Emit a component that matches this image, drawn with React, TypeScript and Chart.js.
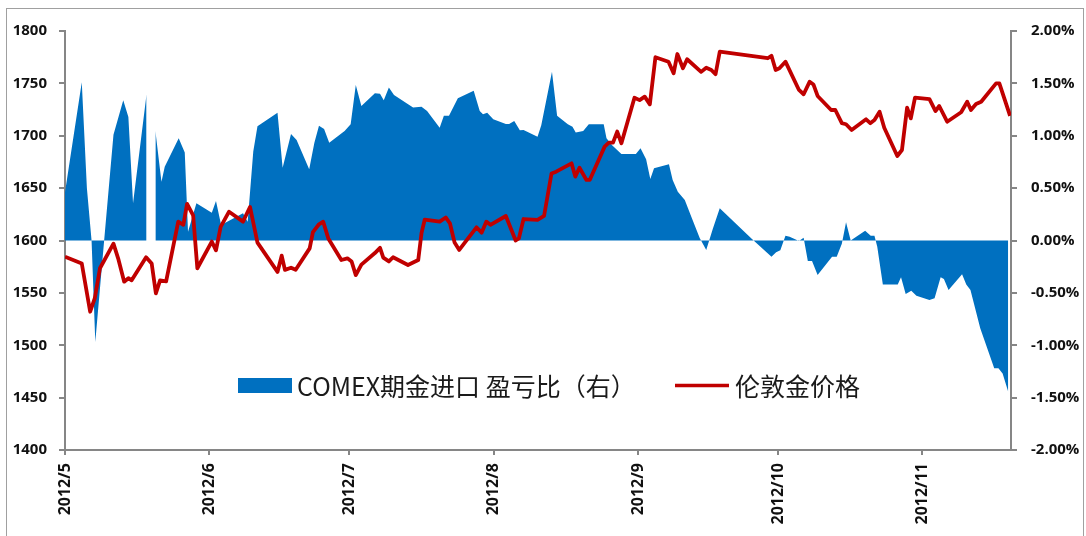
import React, { useEffect, useRef } from "react";
import { Chart, registerables } from "chart.js";

Chart.register(...registerables);

// ---- data (x = days since 2012-05-01) ----
const monthTickDays = [0, 31, 61, 92, 123, 153, 184];
const monthLabels = ["2012/5", "2012/6", "2012/7", "2012/8", "2012/9", "2012/10", "2012/11"];

const seriesNames = ["COMEX期金进口 盈亏比（右）", "伦敦金价格"];

const ratioDays = [0, 3.6, 4.7, 5.7, 6.5, 8.4, 10.4, 12.5, 13.6, 14.6, 17.5, 18.5, 19.4, 20.7, 21.4, 24.4, 25.7, 26.4, 28.2, 31.5, 32.4, 33.5, 38.2, 39.2, 40.4, 41.3, 45.6, 46.7, 48.5, 49.7, 52.4, 53.5, 54.5, 55.6, 56.7, 60.0, 61.3, 62.4, 63.6, 66.5, 67.6, 68.4, 69.5, 70.6, 73.3, 74.7, 76.5, 77.7, 80.4, 81.3, 82.4, 84.3, 87.7, 89.0, 89.7, 90.6, 91.9, 94.6, 95.3, 96.4, 97.6, 98.4, 101.4, 102.2, 104.5, 105.6, 107.9, 108.9, 109.6, 111.2, 112.4, 115.6, 116.2, 117.4, 119.4, 122.5, 123.5, 124.7, 125.6, 126.4, 129.6, 130.4, 131.5, 133.0, 134.4, 136.2, 137.6, 139.0, 140.5, 147.3, 151.6, 152.6, 153.5, 154.6, 155.5, 157.5, 158.5, 159.4, 160.3, 161.5, 164.6, 165.6, 166.7, 167.6, 168.6, 171.7, 172.9, 173.7, 174.3, 175.5, 178.7, 179.4, 180.4, 181.6, 182.7, 185.5, 186.6, 187.9, 188.6, 189.6, 192.5, 193.4, 194.3, 196.4, 199.4, 200.3, 201.2, 202.4];
const ratioPct = [0.46, 1.51, 0.5, 0.0, -0.97, 0.0, 1.01, 1.34, 1.18, 0.355, 1.395, null, 1.045, 0.56, 0.705, 0.976, 0.84, 0.084, 0.355, 0.265, 0.377, 0.148, 0.26, 0.18, 0.85, 1.09, 1.22, 0.695, 1.017, 0.96, 0.68, 0.93, 1.096, 1.064, 0.934, 1.045, 1.11, 1.485, 1.284, 1.405, 1.4, 1.34, 1.46, 1.39, 1.31, 1.27, 1.277, 1.236, 1.077, 1.19, 1.19, 1.357, 1.43, 1.236, 1.205, 1.22, 1.157, 1.112, 1.112, 1.14, 1.052, 1.055, 0.99, 1.1, 1.61, 1.19, 1.11, 1.086, 1.03, 1.045, 1.11, 1.11, 0.976, 0.91, 0.826, 0.826, 0.88, 0.775, 0.587, 0.69, 0.727, 0.578, 0.466, 0.387, 0.227, 0.024, -0.09, 0.11, 0.307, 0.02, -0.155, -0.113, -0.094, 0.046, 0.036, -0.005, 0.027, -0.196, -0.196, -0.33, -0.155, -0.155, -0.03, 0.174, 0.0, 0.094, 0.046, 0.046, -0.06, -0.42, -0.42, -0.35, -0.51, -0.48, -0.527, -0.568, -0.552, -0.35, -0.368, -0.473, -0.323, -0.42, -0.473, -0.838, -1.22, -1.22, -1.27, -1.443];

const goldDays = [0, 3.6, 5.4, 6.4, 7.5, 10.4, 11.4, 12.7, 13.6, 14.3, 17.4, 18.6, 19.5, 20.4, 21.7, 24.3, 25.4, 26.2, 27.5, 28.4, 31.5, 32.4, 33.4, 35.2, 38.2, 39.7, 41.3, 45.6, 46.5, 47.2, 48.5, 49.5, 52.5, 53.2, 54.5, 55.4, 56.5, 59.3, 60.6, 61.5, 62.4, 63.6, 66.5, 67.6, 68.3, 69.5, 70.4, 73.6, 75.8, 76.5, 77.2, 80.4, 81.7, 82.6, 83.6, 84.6, 88.3, 89.4, 90.4, 91.3, 94.6, 96.7, 97.4, 98.4, 101.4, 102.8, 104.4, 105.4, 108.7, 109.5, 110.4, 111.9, 112.6, 115.8, 116.7, 117.6, 118.5, 119.4, 122.2, 123.3, 124.4, 125.5, 126.7, 129.5, 130.6, 131.4, 132.6, 133.5, 136.5, 137.6, 138.7, 139.6, 140.5, 150.8, 151.6, 152.5, 153.3, 154.6, 157.5, 158.5, 159.8, 160.6, 161.5, 164.4, 165.3, 166.7, 167.6, 168.8, 171.9, 172.8, 173.7, 174.8, 175.8, 178.6, 179.6, 180.7, 181.5, 182.4, 185.5, 186.8, 187.6, 189.3, 192.3, 193.6, 194.4, 195.5, 196.6, 199.8, 200.5, 202.8];
const goldPrice = [1584.5, 1578, 1532, 1545, 1573.5, 1597, 1583, 1560.7, 1564, 1562, 1584, 1578, 1549.6, 1562, 1561, 1618, 1615, 1635, 1624, 1573.5, 1599, 1590.6, 1613, 1627.5, 1618, 1632, 1598, 1570, 1585.5, 1572, 1574, 1572, 1592.5, 1608, 1615.5, 1618, 1602, 1581.4, 1583, 1580, 1567, 1577, 1588, 1593, 1583.6, 1580, 1584, 1576.6, 1581.4, 1607, 1620, 1618, 1622, 1616.4, 1598, 1591, 1612.6, 1607.5, 1618, 1615, 1623.4, 1600, 1602, 1620.5, 1619.6, 1623.4, 1664, 1665.7, 1673.7, 1661, 1669.5, 1657.8, 1657.8, 1689.6, 1693.4, 1693.4, 1704, 1692.8, 1736.3, 1734, 1737.3, 1730, 1775, 1770.7, 1759.6, 1778, 1764.4, 1773, 1761, 1765, 1762.8, 1758.7, 1780.2, 1774, 1776.4, 1762.8, 1764.4, 1770.7, 1743.7, 1739.6, 1751.6, 1749, 1738, 1724.6, 1724.6, 1712, 1711, 1705.5, 1715.7, 1712, 1715, 1723, 1707.7, 1680.7, 1686.4, 1726.8, 1716.6, 1736.3, 1735, 1723.6, 1728.4, 1713.4, 1722.4, 1732.5, 1724.6, 1730.3, 1732.5, 1750, 1750, 1719];

const BLUE = "#0070C0";
const RED = "#C00000";
const AXIS = "#868686";
const TEXT = "#111111";
const TICK_FONT = { family: "'Open Sans', 'Liberation Sans', sans-serif", size: 15, weight: "bold" as const };
const X_TICK_FONT = { family: "'Open Sans', 'Liberation Sans', sans-serif", size: 16, weight: "bold" as const };

const framePlugin = {
  id: "frame",
  beforeDraw(chart: any) {
    const ctx = chart.ctx;
    ctx.save();
    ctx.fillStyle = "#ffffff";
    ctx.fillRect(0, 0, chart.width, chart.height);
    ctx.strokeStyle = "#a0a0a0";
    ctx.lineWidth = 1;
    ctx.strokeRect(6.5, 8.5, 1077, 600);
    ctx.restore();
  },
};

const legendPlugin = {
  id: "inLegend",
  afterDraw(chart: any) {
    const ctx = chart.ctx;
    ctx.save();
    ctx.fillStyle = BLUE;
    ctx.fillRect(238, 378, 54, 15);
    ctx.font = "25px 'Noto Sans CJK SC', sans-serif";
    ctx.fillStyle = "#1a1a1a";
    ctx.textBaseline = "middle";
    ctx.textAlign = "left";
    ctx.fillText(seriesNames[0], 297, 386);
    ctx.strokeStyle = RED;
    ctx.lineWidth = 3.5;
    ctx.beginPath();
    ctx.moveTo(675, 385.5);
    ctx.lineTo(729, 385.5);
    ctx.stroke();
    ctx.fillText(seriesNames[1], 735, 386);
    ctx.restore();
  },
};

export default function App() {
  const ref = useRef<HTMLCanvasElement | null>(null);
  useEffect(() => {
    if (!ref.current) return;
    const chart = new Chart(ref.current, {
      type: "line",
      data: {
        datasets: [
          {
            label: seriesNames[1],
            data: goldDays.map((d, i) => ({ x: d, y: goldPrice[i] })),
            yAxisID: "y",
            borderColor: RED,
            borderWidth: 3.8,
            pointRadius: 0,
            tension: 0,
            fill: false,
            order: 0,
            borderJoinStyle: "round",
          },
          {
            label: seriesNames[0],
            data: ratioDays.map((d, i) => ({ x: d, y: ratioPct[i] })),
            yAxisID: "y1",
            borderColor: "transparent",
            backgroundColor: BLUE,
            borderWidth: 0,
            pointRadius: 0,
            tension: 0,
            fill: "origin",
            spanGaps: false,
            order: 1,
          },
        ] as any,
      },
      options: {
        animation: false,
        responsive: false,
        devicePixelRatio: 1,
        layout: { padding: { top: 31, left: 0, right: 0, bottom: 0 } },
        plugins: { legend: { display: false }, tooltip: { enabled: false } },
        scales: {
          x: {
            type: "linear",
            min: 0,
            max: 203,
            grid: { drawOnChartArea: false, drawTicks: true, tickLength: 5, color: AXIS, lineWidth: 2 },
            border: { display: true, color: AXIS, width: 2 },
            afterBuildTicks: (scale: any) => {
              scale.ticks = monthTickDays.map((v) => ({ value: v }));
            },
            afterFit: (scale: any) => {
              scale.height = 86;
            },
            ticks: {
              autoSkip: false,
              minRotation: 90,
              maxRotation: 90,
              padding: 8,
              color: TEXT,
              font: X_TICK_FONT,
              callback: (v: any) => {
                const i = monthTickDays.indexOf(Number(v));
                return i >= 0 ? monthLabels[i] : "";
              },
            },
          },
          y: {
            position: "left",
            min: 1400,
            max: 1800,
            grid: { drawOnChartArea: false, drawTicks: true, tickLength: 6, color: AXIS, lineWidth: 2 },
            border: { display: true, color: AXIS, width: 2 },
            afterFit: (scale: any) => {
              scale.width = 65;
            },
            ticks: {
              stepSize: 50,
              padding: 12,
              color: TEXT,
              font: TICK_FONT,
              callback: (v: any) => String(Math.round(Number(v))),
            },
          },
          y1: {
            position: "right",
            min: -2,
            max: 2,
            grid: { drawOnChartArea: false, drawTicks: true, tickLength: 6, color: AXIS, lineWidth: 2 },
            border: { display: true, color: AXIS, width: 2 },
            afterFit: (scale: any) => {
              scale.width = 75;
            },
            ticks: {
              stepSize: 0.5,
              padding: 14,
              color: TEXT,
              font: TICK_FONT,
              callback: (v: any) => Number(v).toFixed(2) + "%",
            },
          },
        },
      } as any,
      plugins: [framePlugin, legendPlugin],
    });
    return () => chart.destroy();
  }, []);
  return (
    <div style={{ position: "fixed", left: 0, top: 0, width: 1086, height: 536 }}>
      <canvas ref={ref} width={1086} height={536} style={{ width: 1086, height: 536, display: "block" }} />
    </div>
  );
}
